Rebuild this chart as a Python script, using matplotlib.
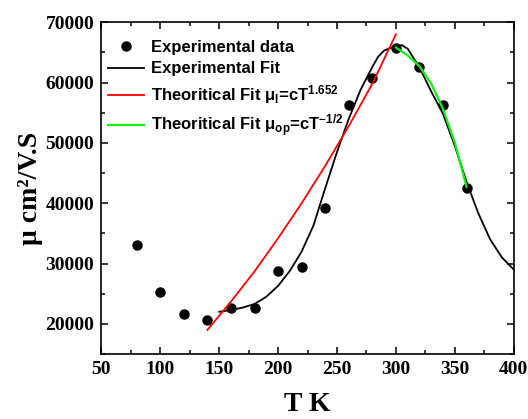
import matplotlib
matplotlib.use('Agg')
import matplotlib.pyplot as plt
from matplotlib.ticker import MultipleLocator

# experimental points
T_exp = [80, 100, 120, 140, 160, 180, 200, 220, 240, 260, 280, 300, 320, 340, 360]
mu_exp = [33100, 25300, 21600, 20700, 22700, 22700, 28800, 29400, 39200, 56200,
          60800, 65800, 62500, 56200, 42500]

# experimental fit
T_fit = [150, 160, 170, 180, 190, 200, 210, 220, 230, 240, 250, 260, 270, 280,
         285, 290, 295, 300, 305, 310, 320, 330, 340, 350, 360, 370, 380, 390, 400]
mu_fit = [22000, 22300, 22700, 23300, 24500, 26300, 28800, 32000, 36300, 42500,
          48500, 54000, 58800, 62600, 64300, 65300, 65700, 66100, 66200, 65600,
          62500, 58500, 54800, 49500, 43500, 38300, 34000, 31000, 29000]

# theoretical fit mu_l = cT^1.652
T_l = [140, 160, 180, 200, 220, 240, 260, 280, 300]
mu_l = [19000, 23700, 28700, 34200, 40000, 46200, 52800, 59800, 68000]

# theoretical fit mu_op = cT^-1/2
T_op = [300, 310, 320, 330, 340, 350, 360]
mu_op = [65800, 64500, 62700, 59800, 55600, 50000, 42700]

plt.rcParams['mathtext.fontset'] = 'custom'
plt.rcParams['mathtext.rm'] = 'Liberation Sans:bold'
plt.rcParams['mathtext.bf'] = 'Liberation Sans:bold'
plt.rcParams['mathtext.it'] = 'Liberation Sans:bold'
plt.rcParams['mathtext.default'] = 'bf'

fig = plt.figure(figsize=(5.28, 4.19), dpi=100)
ax = fig.add_axes([0.192, 0.155, 0.781, 0.792])

ax.plot(T_exp, mu_exp, 'o', color='black', markersize=6.5, label='Experimental data')
ax.plot(T_fit, mu_fit, '-', color='black', lw=1.3, label='Experimental Fit')
ax.plot(T_l, mu_l, '-', color='#ff0000', lw=1.3, label=r'Theoritical Fit μ$_{l}$=cT$^{1.652}$')
ax.plot(T_op, mu_op, '-', color='#11ee11', lw=1.6, label=r'Theoritical Fit μ$_{op}$=cT$^{-1/2}$')

ax.set_xlim(50, 400)
ax.set_ylim(15000, 70000)
ax.xaxis.set_major_locator(MultipleLocator(50))
ax.xaxis.set_minor_locator(MultipleLocator(25))
ax.yaxis.set_major_locator(MultipleLocator(10000))
ax.yaxis.set_minor_locator(MultipleLocator(5000))
ax.tick_params(which='both', direction='in', top=True, right=True, width=1.1)
ax.tick_params(which='major', length=5, labelsize=14, pad=5)
ax.tick_params(which='minor', length=3)
for lab in ax.get_xticklabels() + ax.get_yticklabels():
    lab.set_fontfamily('Liberation Serif')
    lab.set_fontweight('bold')
for sp in ax.spines.values():
    sp.set_linewidth(1.2)

ax.set_xlabel('T K', fontfamily='Liberation Serif', fontweight='bold', fontsize=20, labelpad=10)
ax.set_ylabel('μ cm²/V.S', fontfamily='Liberation Serif', fontweight='bold', fontsize=20, labelpad=2)

leg = ax.legend(loc='upper left', bbox_to_anchor=(0.015, 0.947), frameon=False,
                borderpad=0, borderaxespad=0, handlelength=2.2, handletextpad=0.4,
                labelspacing=0.4, prop={'family': 'Liberation Sans', 'weight': 'bold', 'size': 12})

plt.savefig('out.png', dpi=100)
